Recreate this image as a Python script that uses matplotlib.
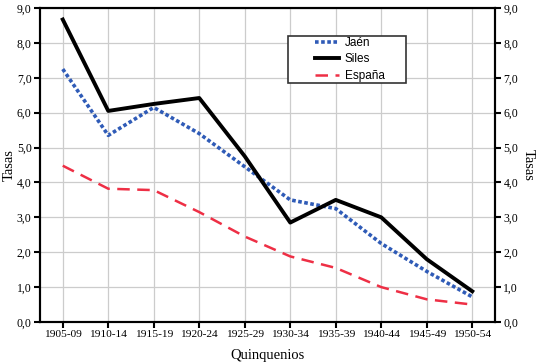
import matplotlib
matplotlib.use('Agg')
import matplotlib.pyplot as plt
from matplotlib.patches import Rectangle

periods = ['1905-09', '1910-14', '1915-19', '1920-24', '1925-29',
           '1930-34', '1935-39', '1940-44', '1945-49', '1950-54']
jaen = [7.25, 5.35, 6.15, 5.40, 4.45, 3.50, 3.25, 2.25, 1.45, 0.72]
siles = [8.67, 6.05, 6.25, 6.42, 4.75, 2.85, 3.50, 3.00, 1.80, 0.88]
espana = [4.48, 3.82, 3.78, 3.15, 2.45, 1.88, 1.55, 1.00, 0.65, 0.50]
yticks = [0, 1, 2, 3, 4, 5, 6, 7, 8, 9]
ytick_labels = [f'{v:.1f}'.replace('.', ',') for v in yticks]

serif = ['Liberation Serif', 'DejaVu Serif']
sans = ['Liberation Sans', 'DejaVu Sans']

fig = plt.figure(figsize=(5.45, 3.64), dpi=100)
ax = fig.add_axes([40 / 545, 1 - 322 / 364, 455 / 545, 314 / 364])

x = list(range(len(periods)))
ax.plot(x, jaen, color='#2f5bb7', linestyle=(0, (1, 0.7)), linewidth=2.6, label='Jaén')
ax.plot(x, siles, color='black', linestyle='-', linewidth=2.8, label='Siles')
ax.plot(x, espana, color='#ee2f45', linestyle=(0, (5, 3)), linewidth=1.8, label='España')

# legend frame drawn by hand (the original has wide side margins)
frame = Rectangle((288 / 545, 1 - 83 / 364), 118 / 545, 47 / 364,
                  transform=fig.transFigure, facecolor='white',
                  edgecolor='#333333', linewidth=1.2, zorder=4, clip_on=False)
ax.add_artist(frame)

ax.set_xlim(-0.5, 9.5)
ax.set_ylim(0, 9)
ax.set_xticks(x)
ax.set_xticklabels(periods, fontfamily=serif, fontsize=8.2)
ax.set_yticks(yticks)
ax.set_yticklabels(ytick_labels, fontfamily=serif, fontsize=8.5)
ax.grid(True, color='#cccccc', linewidth=0.9)
ax.set_axisbelow(True)
for s in ax.spines.values():
    s.set_linewidth(1.5)
ax.tick_params(direction='out', length=4, width=1.5, pad=2)
ax.set_xlabel('Quinquenios', fontfamily=serif, fontsize=10.5, labelpad=7)
ax.set_ylabel('Tasas', fontfamily=serif, fontsize=10.5, labelpad=1)

ax2 = ax.twinx()
ax2.set_ylim(0, 9)
ax2.set_yticks(yticks)
ax2.set_yticklabels(ytick_labels, fontfamily=serif, fontsize=8.5)
ax2.tick_params(direction='out', length=4, width=1.5, pad=2)
ax2.set_ylabel('Tasas', fontfamily=serif, fontsize=10.5, rotation=270, labelpad=12)
for s in ax2.spines.values():
    s.set_linewidth(1.5)

leg = ax.legend(loc='upper left', bbox_to_anchor=(315 / 545, 1 - 37 / 364),
                bbox_transform=fig.transFigure, frameon=False,
                prop={'family': sans, 'size': 8.5}, handlelength=2.0,
                borderpad=0, labelspacing=0.38, handletextpad=0.5,
                borderaxespad=0)
leg.set_zorder(5)

fig.savefig('out.png', dpi=100)
